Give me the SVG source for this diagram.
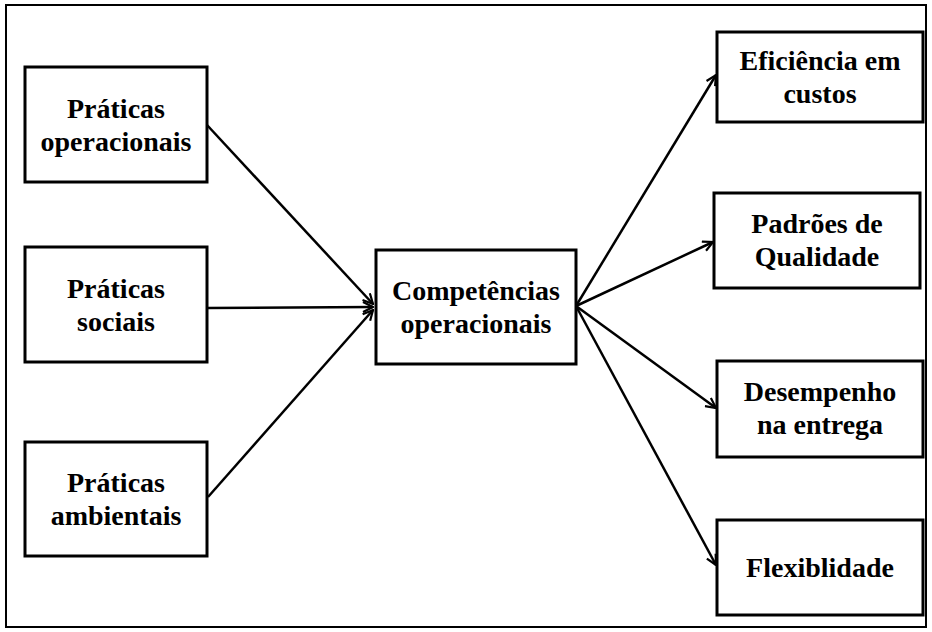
<svg xmlns="http://www.w3.org/2000/svg" width="932" height="632" viewBox="0 0 932 632">
<style>
.box{fill:#fff;stroke:#000;stroke-width:3}
.t{font-family:"Liberation Serif","Times New Roman",serif;font-weight:bold;font-size:28px;text-anchor:middle;fill:#000}
.c{stroke:#000;stroke-width:2.5;fill:none;marker-end:url(#ah)}
</style>
<defs>
<marker id="ah" viewBox="0 0 12 12" refX="11" refY="6" markerWidth="12" markerHeight="12" markerUnits="userSpaceOnUse" orient="auto">
<path d="M1,1 L11,6 L1,11" fill="none" stroke="#000" stroke-width="2.2"/>
</marker>
</defs>
<rect x="0" y="0" width="932" height="632" fill="#fff"/>
<rect x="6" y="5" width="920" height="622" fill="none" stroke="#000" stroke-width="2"/>
<g id="connectors">
<line class="c" x1="207" y1="125" x2="373" y2="304"/>
<line class="c" x1="207" y1="308" x2="373" y2="307"/>
<line class="c" x1="208" y1="497" x2="373" y2="310"/>
<line class="c" x1="576" y1="306" x2="716" y2="75"/>
<line class="c" x1="576" y1="306" x2="713" y2="242"/>
<line class="c" x1="576" y1="306" x2="716" y2="408"/>
<line class="c" x1="576" y1="306" x2="716" y2="565"/>
</g>
<g id="n1"><rect class="box" x="25" y="67" width="182" height="115"/><text class="t" x="116" y="118">Práticas</text><text class="t" x="116" y="151">operacionais</text></g>
<g id="n2"><rect class="box" x="25" y="247" width="182" height="115"/><text class="t" x="116" y="298">Práticas</text><text class="t" x="116" y="331">sociais</text></g>
<g id="n3"><rect class="box" x="25" y="442" width="182" height="114"/><text class="t" x="116" y="492">Práticas</text><text class="t" x="116" y="525">ambientais</text></g>
<g id="n4"><rect class="box" x="376" y="250" width="200" height="114"/><text class="t" x="476" y="300">Competências</text><text class="t" x="476" y="333">operacionais</text></g>
<g id="n5"><rect class="box" x="717" y="32" width="206" height="90"/><text class="t" x="820" y="70">Eficiência em</text><text class="t" x="820" y="103">custos</text></g>
<g id="n6"><rect class="box" x="714" y="193" width="206" height="95"/><text class="t" x="817" y="233">Padrões de</text><text class="t" x="817" y="266">Qualidade</text></g>
<g id="n7"><rect class="box" x="717" y="361" width="206" height="96"/><text class="t" x="820" y="401">Desempenho</text><text class="t" x="820" y="434">na entrega</text></g>
<g id="n8"><rect class="box" x="717" y="520" width="206" height="95"/><text class="t" x="820" y="577">Flexiblidade</text></g>
</svg>
